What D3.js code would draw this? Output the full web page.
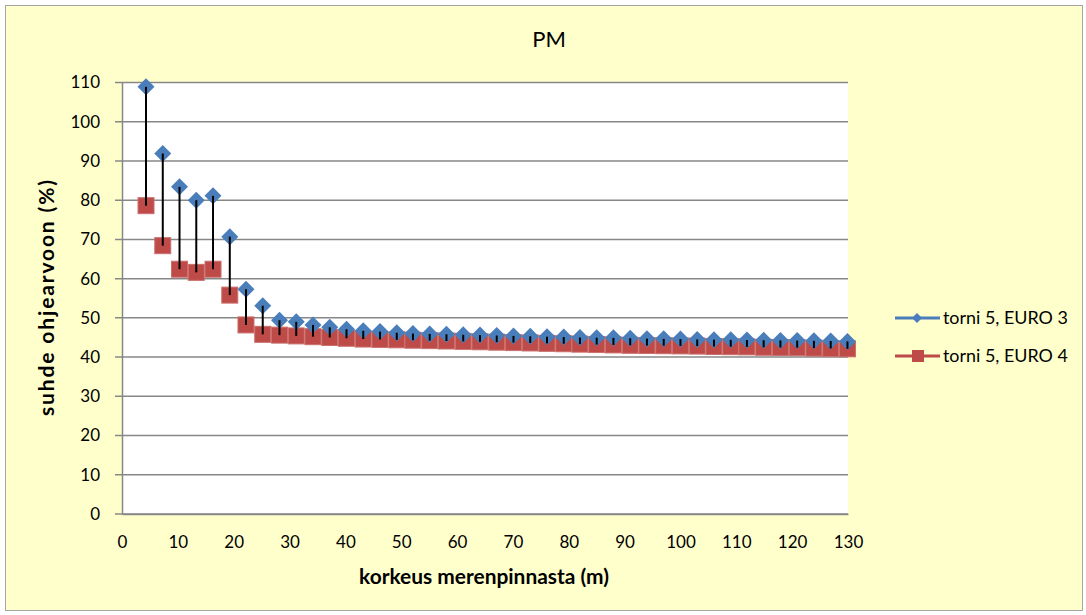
<!DOCTYPE html>
<html>
<head>
<meta charset="utf-8">
<script src="https://cdn.jsdelivr.net/npm/d3@7"></script>
<style>
  body { margin: 0; background: #fff; }
  text { font-family: Lato, "Open Sans", sans-serif; fill: #000; }
</style>
</head>
<body>
<svg id="chart"></svg>
<script>
// heights (m) and ratio to guideline (%)
let heights = [4.3, 7.3, 10.3, 13.3, 16.3, 19.3, 22.2, 25.2, 28.2, 31.2, 34.2, 37.2, 40.2, 43.2,
  46.2, 49.2, 52.1, 55.1, 58.1, 61.1, 64.1, 67.1, 70.1, 73.1, 76.1, 79.1, 82.0, 85.0, 88.0,
  91.0, 94.0, 97.0, 100.0, 103.0, 106.0, 109.0, 111.9, 114.9, 117.9, 120.9, 123.9, 126.9, 129.9];

let euro3 = [108.9, 91.9, 83.4, 80.0, 81.1, 70.7, 57.3, 53.1, 49.4, 49.0, 48.2, 47.6, 47.1, 46.7,
  46.5, 46.2, 46.0, 45.9, 45.8, 45.7, 45.6, 45.5, 45.4, 45.3, 45.2, 45.1, 45.0, 44.95, 44.9,
  44.8, 44.7, 44.65, 44.6, 44.5, 44.45, 44.4, 44.35, 44.3, 44.25, 44.2, 44.15, 44.1, 44.0];

let euro4 = [78.6, 68.4, 62.4, 61.6, 62.4, 55.8, 48.2, 45.8, 45.6, 45.4, 45.2, 45.0, 44.8, 44.6,
  44.5, 44.4, 44.3, 44.2, 44.1, 44.0, 43.9, 43.8, 43.7, 43.6, 43.5, 43.4, 43.3, 43.2, 43.1,
  43.0, 42.95, 42.9, 42.85, 42.8, 42.7, 42.65, 42.6, 42.5, 42.45, 42.4, 42.3, 42.2, 42.1];

let seriesNames = ["torni 5, EURO 3", "torni 5, EURO 4"];
let xTicks = d3.range(0, 131, 10);
let yTicks = d3.range(0, 111, 10);

let width = 1086;
let height = 615;
let plot = { left: 122, right: 848, top: 82.5, bottom: 514 };
let blue = "#4A7EBB";
let red = "#BE4B48";
let gridColor = "#878787";

let svg = d3.select("#chart")
    .attr("width", width)
    .attr("height", height);

// scale a text's font size so it spans the width seen in the picture
function fitText(sel, target, base) {
    let w = sel.node().getComputedTextLength();
    if (w > 0) sel.attr("font-size", (base * target / w).toFixed(2) + "px");
}

// chart background + border
svg.append("rect")
    .attr("x", 5.5).attr("y", 5.5)
    .attr("width", width - 9).attr("height", height - 10)
    .attr("fill", "#FFFFCC")
    .attr("stroke", "#A6A6A6")
    .attr("stroke-width", 1);

svg.append("rect")
    .attr("x", plot.left).attr("y", plot.top)
    .attr("width", plot.right - plot.left).attr("height", plot.bottom - plot.top)
    .attr("fill", "#fff");

let scaleX = d3.scaleLinear().domain([0, 130]).range([plot.left, plot.right]);
let scaleY = d3.scaleLinear().domain([0, 110]).range([plot.bottom, plot.top]);

// horizontal gridlines
svg.append("g")
    .selectAll("line").data(yTicks)
    .join("line")
    .attr("x1", plot.left - 7).attr("x2", plot.right)
    .attr("y1", d => scaleY(d)).attr("y2", d => scaleY(d))
    .attr("stroke", gridColor)
    .attr("stroke-width", 1.5);

// y axis
let axisY = d3.axisLeft(scaleY).tickValues(yTicks).tickSize(0).tickPadding(22);
let gY = svg.append("g")
    .attr("transform", `translate(${plot.left}, 0)`)
    .call(axisY);
gY.select(".domain").attr("stroke", gridColor).attr("stroke-width", 1.5);
gY.selectAll("text").attr("font-size", "17px").attr("font-family", "Lato, sans-serif");

// x axis (labels only)
let axisX = d3.axisBottom(scaleX).tickValues(xTicks).tickSize(0).tickPadding(22);
let gX = svg.append("g")
    .attr("transform", `translate(0, ${plot.bottom})`)
    .call(axisX);
gX.select(".domain").attr("stroke", gridColor).attr("stroke-width", 1.5);
gX.selectAll("text").attr("font-size", "17px").attr("font-family", "Lato, sans-serif");

let points = heights.map((h, i) => ({ h: h, a: euro3[i], b: euro4[i] }));

// EURO 4 squares
svg.append("g")
    .selectAll("rect").data(points)
    .join("rect")
    .attr("x", d => scaleX(d.h) - 8)
    .attr("y", d => scaleY(d.b) - 8)
    .attr("width", 16).attr("height", 16)
    .attr("fill", red)
    .attr("stroke", "#C9706D")
    .attr("stroke-width", 1);

// EURO 3 diamonds
svg.append("g")
    .selectAll("path").data(points)
    .join("path")
    .attr("d", "M0,-8.5L8.5,0L0,8.5L-8.5,0Z")
    .attr("transform", d => `translate(${scaleX(d.h)}, ${scaleY(d.a)})`)
    .attr("fill", blue);

// high-low lines
svg.append("g")
    .selectAll("line").data(points)
    .join("line")
    .attr("x1", d => scaleX(d.h)).attr("x2", d => scaleX(d.h))
    .attr("y1", d => scaleY(d.a)).attr("y2", d => scaleY(d.b))
    .attr("stroke", "#000")
    .attr("stroke-width", 2);

// title
svg.append("text")
    .attr("x", 549).attr("y", 47)
    .attr("text-anchor", "middle")
    .attr("font-size", "22px")
    .text("PM");

// axis titles
let xTitle = svg.append("text")
    .attr("x", 484).attr("y", 584)
    .attr("text-anchor", "middle")
    .attr("font-size", "16px")
    .attr("font-weight", "bold")
    .text("korkeus merenpinnasta (m)");
fitText(xTitle, 250, 16);

svg.append("text")
    .attr("transform", `translate(54, 298) rotate(-90)`)
    .attr("text-anchor", "middle")
    .attr("font-size", "21px")
    .attr("font-weight", "bold")
    .attr("textLength", 236)
    .attr("lengthAdjust", "spacing")
    .text("suhde ohjearvoon (%)");

// legend
let legend = svg.append("g").attr("transform", "translate(895, 318)");
seriesNames.forEach((name, i) => {
    let g = legend.append("g").attr("transform", `translate(0, ${i * 38})`);
    let c = i === 0 ? blue : red;
    g.append("line")
        .attr("x1", 0).attr("x2", 45)
        .attr("stroke", c).attr("stroke-width", 3);
    if (i === 0) {
        g.append("path").attr("d", "M22,-5L27,0L22,5L17,0Z").attr("fill", c);
    } else {
        g.append("rect").attr("x", 17).attr("y", -6).attr("width", 12).attr("height", 12).attr("fill", c);
    }
    let t = g.append("text")
        .attr("x", 48).attr("y", 6)
        .attr("font-size", "16px")
        .text(name);
    fitText(t, 125, 16);
});
</script>
</body>
</html>
